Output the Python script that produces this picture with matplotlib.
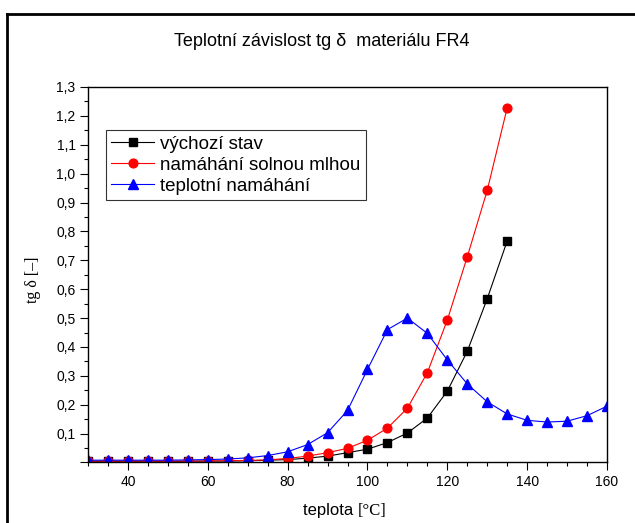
import numpy as np
import matplotlib.pyplot as plt
from matplotlib.lines import Line2D
from matplotlib.ticker import MultipleLocator, FuncFormatter

# data
teplota = [30, 35, 40, 45, 50, 55, 60, 65, 70, 75, 80, 85, 90, 95, 100,
           105, 110, 115, 120, 125, 130, 135, 140, 145, 150, 155, 160]

vychozi = [0.004, 0.004, 0.004, 0.004, 0.004, 0.004, 0.005, 0.005, 0.006,
           0.008, 0.010, 0.015, 0.022, 0.034, 0.046, 0.069, 0.102, 0.154,
           0.247, 0.385, 0.567, 0.767]
solna_mlha = [0.005, 0.005, 0.005, 0.005, 0.005, 0.005, 0.005, 0.006, 0.007,
              0.009, 0.014, 0.022, 0.034, 0.049, 0.077, 0.119, 0.188, 0.311,
              0.493, 0.712, 0.942, 1.228]
teplotni = [0.008, 0.008, 0.008, 0.008, 0.008, 0.009, 0.010, 0.012, 0.016,
            0.024, 0.037, 0.062, 0.103, 0.180, 0.322, 0.460, 0.500, 0.447,
            0.355, 0.272, 0.210, 0.168, 0.146, 0.140, 0.143, 0.162, 0.195]

labels = ['výchozí stav', 'namáhání solnou mlhou', 'teplotní namáhání']

plt.rcParams['font.family'] = ['Liberation Sans', 'DejaVu Sans']

fig = plt.figure(figsize=(6.35, 5.23), dpi=100)
ax = fig.add_axes([0.1386, 0.1157, 0.8173, 0.718])

n1 = len(vychozi)
n2 = len(solna_mlha)
ax.plot(teplota[:n1], vychozi, color='black', lw=0.8, marker='s', ms=5.5,
        label=labels[0])
ax.plot(teplota[:n2], solna_mlha, color='red', lw=0.8, marker='o', ms=6.3,
        label=labels[1])
ax.plot(teplota, teplotni, color='blue', lw=0.8, marker='^', ms=7,
        label=labels[2])

ax.set_xlim(30, 160)
ax.set_ylim(0, 1.3)
ax.xaxis.set_major_locator(MultipleLocator(20))
ax.xaxis.set_minor_locator(MultipleLocator(5))
ax.yaxis.set_major_locator(MultipleLocator(0.1))
ax.yaxis.set_minor_locator(MultipleLocator(0.05))

ax.yaxis.set_major_formatter(FuncFormatter(
    lambda v, p: '' if v < 0.05 else f'{v:.1f}'.replace('.', ',')))
ax.xaxis.set_major_formatter(FuncFormatter(
    lambda v, p: '' if v < 35 else f'{v:.0f}'))

ax.tick_params(which='major', direction='out', length=5.5, width=0.8,
               labelsize=10, pad=3.5)
ax.tick_params(which='minor', direction='out', length=3, width=0.8)
for s in ax.spines.values():
    s.set_linewidth(1.0)

fig.text(0.507, 0.920, 'Teplotní závislost tg δ  materiálu FR4',
         ha='center', va='center', fontsize=13)

# x label: sans word + serif unit
fig.text(0.564, 0.0235, 'teplota ', ha='right', va='center', fontsize=12)
fig.text(0.564, 0.0235, '[°C]', ha='left', va='center', fontsize=12,
         family=['Liberation Serif', 'DejaVu Serif'])
fig.text(0.052, 0.465, 'tg δ [–]', ha='center', va='center', fontsize=11.5,
         rotation=90, family=['Liberation Serif', 'DejaVu Serif'])

leg = ax.legend(loc='upper left', bbox_to_anchor=(0.034, 0.885),
                fontsize=13.5, frameon=True, fancybox=False,
                edgecolor='black', handlelength=2.3, handletextpad=0.3,
                borderpad=0.3, labelspacing=0.2, borderaxespad=0)
leg.get_frame().set_linewidth(0.8)

# outer frame (cut off at right and bottom in the original)
fig.add_artist(Line2D([0.0115, 0.0115], [0.0, 0.974], color='black', lw=2,
                      transform=fig.transFigure))
fig.add_artist(Line2D([0.0115, 1.0], [0.974, 0.974], color='black', lw=2,
                      transform=fig.transFigure))

fig.savefig('out.png', dpi=100)
